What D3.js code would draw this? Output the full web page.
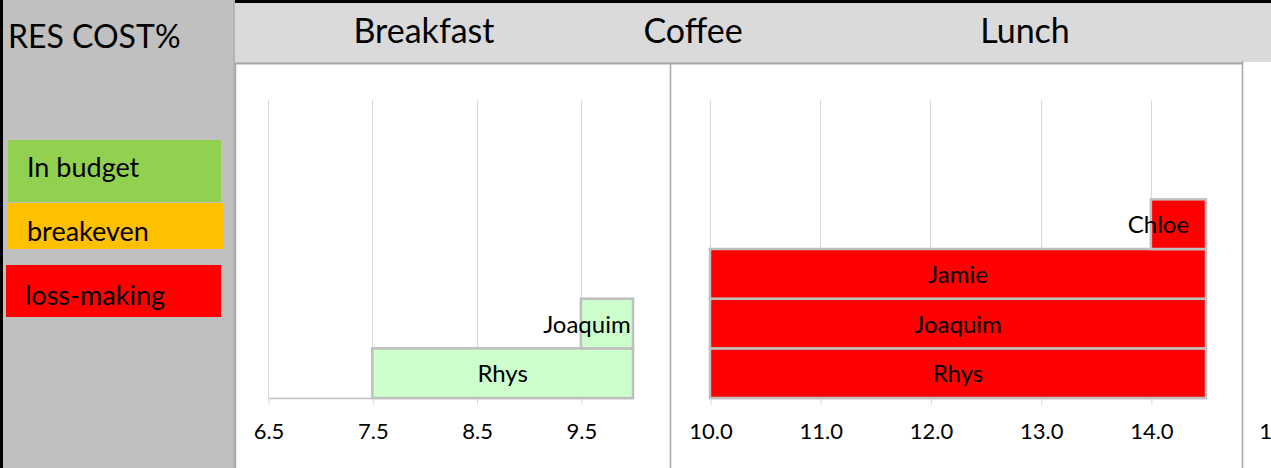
<!DOCTYPE html>
<html>
<head>
<meta charset="utf-8">
<script src="https://cdn.jsdelivr.net/npm/d3@7"></script>
<style>
  body { margin: 0; background: #fff; }
  svg { display: block; font-family: Lato, "Open Sans", sans-serif; }
</style>
</head>
<body>
<svg id="chart" width="1271" height="468"></svg>
<script>
// chart data
const mealHeaders = ["Breakfast", "Coffee", "Lunch"];
const legendLabels = ["In budget", "breakeven", "loss-making"];
const legendColors = ["#92d050", "#ffc000", "#ff0000"];
const staffNames = ["Rhys", "Joaquim", "Jamie", "Chloe"];

const breakfastNames = ["Rhys", "Joaquim"];
const breakfastStart = [7.5, 9.5];
const breakfastEnd = [10.0, 10.0];
const breakfastTicks = [6.5, 7.5, 8.5, 9.5];

const coffeeNames = ["Rhys", "Joaquim", "Jamie", "Chloe"];
const coffeeStart = [10.0, 10.0, 10.0, 14.0];
const coffeeEnd = [14.5, 14.5, 14.5, 14.5];
const coffeeTicks = [10.0, 11.0, 12.0, 13.0, 14.0];

const lunchTicks = [10.0];

const svg = d3.select("#chart");
const W = 1271, H = 468;

// left grey block
svg.append("rect").attr("x", 0).attr("y", 0).attr("width", 236).attr("height", H).attr("fill", "#c0c0c0");
svg.append("rect").attr("x", 0).attr("y", 0).attr("width", 3).attr("height", H).attr("fill", "#000");
svg.append("line").attr("x1", 234).attr("x2", 234).attr("y1", 0).attr("y2", H)
  .attr("stroke", "#a6a6a6").attr("stroke-width", 1);

svg.append("text").attr("x", 8).attr("y", 48)
  .style("font-size", "32px").attr("fill", "#000").text("RES COST%");

// header band
svg.append("rect").attr("x", 235).attr("y", 0).attr("width", W - 235).attr("height", 64).attr("fill", "#dadada");
svg.append("rect").attr("x", 235).attr("y", 0).attr("width", W - 235).attr("height", 3).attr("fill", "#000");
svg.append("line").attr("x1", 235).attr("x2", 1243).attr("y1", 63.5).attr("y2", 63.5)
  .attr("stroke", "#a6a6a6").attr("stroke-width", 2);

const headerX = [424, 693, 1025];
svg.selectAll(".header").data(mealHeaders).enter().append("text")
  .attr("class", "header")
  .attr("x", (d, i) => headerX[i]).attr("y", 43)
  .attr("text-anchor", "middle")
  .style("font-size", "34px").text(d => d);

// legend
const legendBoxes = [[8, 140, 213, 62], [8, 203, 215, 46], [6, 265, 215, 52]];
const legendTextY = [177, 241, 305];
const lg = svg.selectAll(".legend").data(legendLabels).enter().append("g").attr("class", "legend");
lg.append("rect")
  .attr("x", (d, i) => legendBoxes[i][0]).attr("y", (d, i) => legendBoxes[i][1])
  .attr("width", (d, i) => legendBoxes[i][2]).attr("height", (d, i) => legendBoxes[i][3])
  .attr("fill", (d, i) => legendColors[i]);
lg.append("text")
  .attr("x", (d, i) => legendBoxes[i][0] + 19).attr("y", (d, i) => legendTextY[i])
  .style("font-size", "27px").text(d => d);

// panels
const panels = [
  { x: 236, w: 434, top: 65, r0: 268, r1: 633, dom: [6.5, 10.0], ticks: breakfastTicks,
    names: breakfastNames, start: breakfastStart, end: breakfastEnd, fill: "#ccffcc" },
  { x: 671, w: 571, top: 65, r0: 710, r1: 1206, dom: [10.0, 14.5], ticks: coffeeTicks,
    names: coffeeNames, start: coffeeStart, end: coffeeEnd, fill: "#ff0000" },
  { x: 1243, w: 40, top: 62, r0: 1280, r1: 1390, dom: [10.0, 11.0], ticks: lunchTicks,
    names: [], start: [], end: [], fill: "#ff0000" }
];

const plotTop = 100, plotBottom = 398;
const y = d3.scaleBand()
  .domain(d3.range(6))
  .range([plotBottom, plotTop]);

panels.forEach(p => {
  const g = svg.append("g");
  g.append("rect").attr("x", p.x).attr("y", p.top).attr("width", p.w).attr("height", H - p.top).attr("fill", "#fff");
  g.append("line").attr("x1", p.x - 0.5).attr("x2", p.x - 0.5).attr("y1", p.top - 1).attr("y2", H)
    .attr("stroke", "#a6a6a6").attr("stroke-width", 1.5);

  const x = d3.scaleLinear().domain(p.dom).range([p.r0, p.r1]);

  // gridlines
  g.selectAll(".grid").data(p.ticks).enter().append("line")
    .attr("x1", d => Math.round(x(d)) + 0.5).attr("x2", d => Math.round(x(d)) + 0.5)
    .attr("y1", plotTop).attr("y2", plotBottom)
    .attr("stroke", "#d9d9d9").attr("stroke-width", 1);

  // axis
  const ax = g.append("g").attr("transform", `translate(0.5,${plotBottom})`)
    .call(d3.axisBottom(x).tickValues(p.ticks).tickFormat(d3.format(".1f")).tickSize(7).tickSizeOuter(0).tickPadding(18));
  ax.select(".domain").attr("stroke", "#bfbfbf").attr("stroke-width", 1.5);
  ax.selectAll(".tick line").attr("stroke", "#d9d9d9");
  ax.selectAll(".tick text").attr("fill", "#000").style("font-size", "22px")
    .style("font-family", "Lato, 'Open Sans', sans-serif");

  // bars
  const rows = p.names.map((n, i) => ({ name: n, s: p.start[i], e: p.end[i], slot: staffNames.indexOf(n) }));
  g.selectAll(".bar").data(rows).enter().append("rect")
    .attr("x", d => x(d.s)).attr("y", d => y(d.slot))
    .attr("width", d => x(d.e) - x(d.s)).attr("height", y.bandwidth())
    .attr("fill", p.fill).attr("stroke", "#bfbfbf").attr("stroke-width", 2.5);

  g.selectAll(".lbl").data(rows).enter().append("text")
    .attr("x", d => {
      const c = (x(d.s) + x(d.e)) / 2;
      return (x(d.e) - x(d.s)) < 80 ? c - 20 : c;
    })
    .attr("y", d => y(d.slot) + y.bandwidth() / 2 + 9)
    .attr("text-anchor", "middle").style("font-size", "24px").text(d => d.name);
});
</script>
</body>
</html>
